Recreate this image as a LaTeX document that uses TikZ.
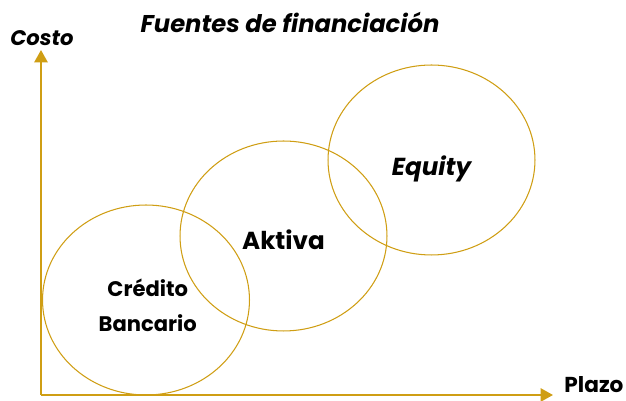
\documentclass[tikz,border=0pt]{standalone}
\usepackage{fontspec}
\setmainfont{Poppins}
\usetikzlibrary{shapes,arrows.meta}
\usetikzlibrary{positioning}
\definecolor{gold}{RGB}{207,158,20}

\begin{document}
\begin{tikzpicture}[x=0.02cm,y=-0.02cm, align=center,
  circ/.style={ellipse,draw=gold,line width=0.6pt,inner sep=0pt,minimum width=4.14cm,minimum height=3.8cm},
  lbl/.style={font=\fontsize{12}{19.5}\selectfont\bfseries},
  big/.style={font=\fontsize{14}{17}\selectfont\bfseries},
  axis/.style={draw=gold,line width=1.1pt,-{Triangle[width=7.5pt,length=7pt]}}]
  \useasboundingbox (0,0) rectangle (626,401);
  \coordinate (o) at (41,395);
  \coordinate (yend) at (41,50);
  \coordinate (xend) at (553,395);
  \node (titulo) at (290,22) {\fontsize{13.8}{18}\selectfont\bfseries\itshape Fuentes de financiación};
  \node (costo) at (42,38) {\fontsize{12}{16}\selectfont\bfseries\itshape Costo};
  \node (plazo) at (594,385) {\fontsize{12.3}{16}\selectfont\bfseries Plazo};
  \node[circ] (credito) at (146,300) {};
  \node[circ] (aktiva)  at (283.5,236) {};
  \node[circ] (equity)  at (431.5,160) {};
  \node[lbl] (t1) at ([xshift=1pt,yshift=-3pt]credito.center) {Crédito\\Bancario};
  \node[big] (t2) at ([yshift=-2pt]aktiva.center) {Aktiva};
  \node[big] (t3) at ([yshift=-5pt]equity.center) {\itshape Equity};
  \path[axis] (o) -- (yend);
  \path[axis] (o) -- (xend);
\end{tikzpicture}
\end{document}
